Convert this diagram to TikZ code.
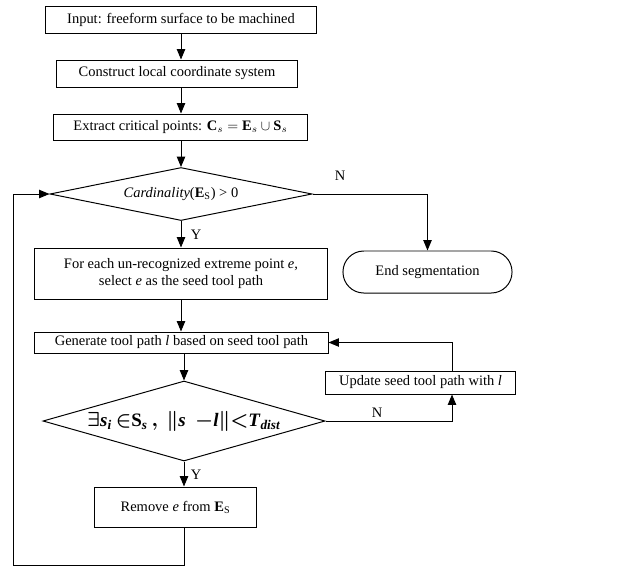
\documentclass[tikz,border=0pt]{standalone}
\usepackage{amsmath,amssymb}
\usepackage{fontspec}
\setmainfont{Liberation Serif}
\usepackage{tikz}
\usetikzlibrary{shapes.geometric, arrows.meta, positioning, calc}

\newcommand{\bi}[1]{\textbf{\textit{#1}}}

\begin{document}
\begin{tikzpicture}[
    x=0.025cm, y=-0.025cm,
    box/.style={draw, line width=0.7pt, align=center, inner sep=1pt, font=\fontsize{10.3}{12.5}\selectfont},
    cond/.style={draw, line width=0.7pt, diamond, inner sep=0pt, align=center},
    term/.style={box, rounded corners=0.52cm},
    arrow/.style={-{Triangle[length=2.6mm, width=2.1mm]}, line width=0.7pt},
    lbl/.style={font=\fontsize{10.3}{12}\selectfont, inner sep=0pt}
]
    \useasboundingbox (0,0) rectangle (623,567);

    \node[box, minimum width=6.75cm, minimum height=0.675cm] (input) at (181,19.5) {Input: freeform surface to be machined};
    \node[box, minimum width=6.0cm, minimum height=0.675cm] (lcs) at (177,73.5) {Construct local coordinate system};
    \node[box, minimum width=6.325cm, minimum height=0.65cm] (crit) at (180.5,127) {Extract critical points: $\mathbf{C}_s=\mathbf{E}_s\cup\mathbf{S}_s$};
    \node[cond, minimum width=6.55cm, minimum height=1.325cm, aspect=4.9, font=\fontsize{10.3}{12}\selectfont] (card) at (181,194)
        {\textit{Cardinality}(\textbf{E}\textsubscript{S}) > 0};
    \node[box, minimum width=7.3cm, minimum height=1.275cm] (seed) at (181,273.5)
        {For each un-recognized extreme point \textit{e},\\select \textit{e} as the seed tool path};
    \node[term, minimum width=4.225cm, minimum height=1.05cm] (stop) at (427.5,272) {End segmentation};
    \node[box, minimum width=7.325cm, minimum height=0.525cm] (gen) at (181.5,342.5) {Generate tool path \textit{l} based on seed tool path};
    \node[box, minimum width=4.725cm, minimum height=0.575cm] (upd) at (420.5,382.5) {Update seed tool path with \textit{l}};
    \node[cond, minimum width=7.05cm, minimum height=2cm, aspect=3.525, font=\fontsize{13.5}{15}\selectfont\boldmath] (dist) at (184,421)
        {$\exists\bi{s}_{\bi{i}}\,{\in}\textbf{S}_{\bi{s}}\,,\ \|\bi{s}\ \ {-}\bi{l}\|{<}\bi{T}_{\bi{dist}}$};
    \node[box, minimum width=4.025cm, minimum height=1cm] (rem) at (175.5,507) {Remove \textit{e} from \textbf{E}\textsubscript{S}};

    \coordinate (rx) at (452,0);
    \coordinate (lb) at (13,565);

    \draw[arrow] (input.south -| 181,0) -- (181,0 |- lcs.north);
    \draw[arrow] (lcs.south -| 181,0) -- (181,0 |- crit.north);
    \draw[arrow] (crit.south -| card.north) -- (card.north);
    \draw[arrow] (card.south) -- (card.south |- seed.north);
    \draw[arrow] (card.east) -| (stop.north);
    \draw[arrow] (seed.south -| 181,0) -- (181,0 |- gen.north);
    \draw[arrow] (gen.south -| dist.north) -- (dist.north);
    \draw[arrow] (dist.south) -- (dist.south |- rem.north);
    \draw[arrow] (dist.east) -| (rx |- upd.south);
    \draw[arrow] (rx |- upd.north) |- (gen.east);
    \draw[arrow] (rem.south -| dist.south) |- (lb) |- (card.west);

    \node[lbl] (n1) at (340,176) {N};
    \node[lbl] (y1) at (196,235) {Y};
    \node[lbl] (n2) at (377,413) {N};
    \node[lbl] (y2) at (196,475) {Y};
\end{tikzpicture}
\end{document}
